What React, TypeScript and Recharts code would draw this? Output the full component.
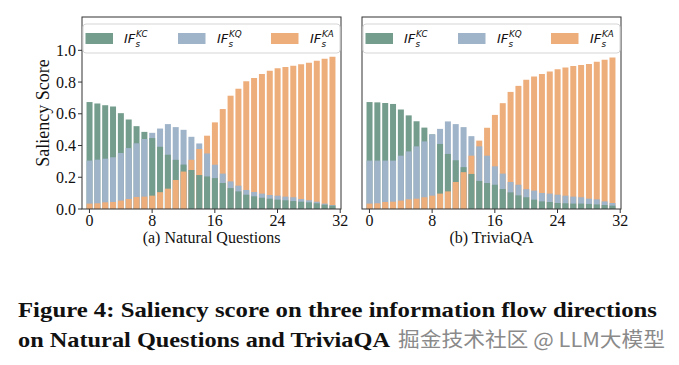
import React from 'react';
import { BarChart, Bar, XAxis, YAxis, Cell } from 'recharts';

const layers = [0, 1, 2, 3, 4, 5, 6, 7, 8, 9, 10, 11, 12, 13, 14, 15, 16, 17, 18, 19, 20, 21, 22, 23, 24, 25, 26, 27, 28, 29, 30, 31];
const seriesSup = ['KC', 'KQ', 'KA'];
const seriesColors = ['#759d8d', '#9fb3c9', '#eeae7c'];
const xTicks = [0, 8, 16, 24, 32];
const yTicks = [0, 0.2, 0.4, 0.6, 0.8, 1.0];
const panelTitles = ['(a) Natural Questions', '(b) TriviaQA'];

// Natural Questions
const nqKC = [0.674, 0.665, 0.654, 0.646, 0.604, 0.564, 0.522, 0.486, 0.447, 0.392, 0.342, 0.310, 0.280, 0.246, 0.214, 0.205, 0.195, 0.164, 0.132, 0.111, 0.090, 0.080, 0.071, 0.065, 0.059, 0.055, 0.050, 0.046, 0.042, 0.036, 0.027, 0.021];
const nqKQ = [0.305, 0.311, 0.317, 0.326, 0.353, 0.384, 0.414, 0.441, 0.480, 0.507, 0.535, 0.516, 0.499, 0.455, 0.413, 0.350, 0.279, 0.223, 0.174, 0.147, 0.120, 0.107, 0.097, 0.088, 0.084, 0.078, 0.074, 0.063, 0.055, 0.046, 0.034, 0.025];
const nqKA = [0.034, 0.036, 0.042, 0.044, 0.053, 0.063, 0.076, 0.078, 0.084, 0.106, 0.128, 0.183, 0.236, 0.310, 0.378, 0.462, 0.546, 0.630, 0.714, 0.758, 0.805, 0.826, 0.851, 0.872, 0.887, 0.895, 0.903, 0.912, 0.922, 0.935, 0.947, 0.960];

// TriviaQA
const tqKC = [0.674, 0.672, 0.668, 0.662, 0.627, 0.590, 0.553, 0.513, 0.470, 0.410, 0.347, 0.307, 0.264, 0.221, 0.177, 0.164, 0.153, 0.126, 0.105, 0.086, 0.074, 0.059, 0.048, 0.044, 0.038, 0.036, 0.034, 0.034, 0.032, 0.029, 0.025, 0.021];
const tqKQ = [0.305, 0.305, 0.305, 0.305, 0.336, 0.363, 0.395, 0.426, 0.470, 0.505, 0.552, 0.535, 0.516, 0.459, 0.395, 0.336, 0.269, 0.223, 0.170, 0.153, 0.125, 0.116, 0.101, 0.097, 0.090, 0.084, 0.078, 0.074, 0.065, 0.061, 0.048, 0.038];
const tqKA = [0.034, 0.036, 0.044, 0.046, 0.053, 0.061, 0.065, 0.074, 0.084, 0.097, 0.111, 0.170, 0.232, 0.336, 0.431, 0.512, 0.593, 0.667, 0.738, 0.776, 0.814, 0.835, 0.851, 0.867, 0.881, 0.891, 0.901, 0.908, 0.914, 0.928, 0.940, 0.955];

// build rows: tallest bar drawn first (behind), shortest in front
function buildRows(series: number[][]) {
  return layers.map((layer, i) => {
    const order = series
      .map((s, k) => ({ k, v: s[i] }))
      .sort((a, b) => b.v - a.v || a.k - b.k);
    return {
      layer,
      r0: order[0].v, r1: order[1].v, r2: order[2].v,
      k0: order[0].k, k1: order[1].k, k2: order[2].k,
    };
  });
}

const nqRows = buildRows([nqKC, nqKQ, nqKA]);
const tqRows = buildRows([tqKC, tqKQ, tqKA]);

const SERIF = '"Liberation Serif", "Times New Roman", serif';
const SANS = '"DejaVu Sans", sans-serif';

function Panel({ rows, left, showY }: { rows: any[]; left: number; showY: boolean }) {
  return (
    <div style={{ position: 'absolute', left, top: 0 }}>
      <BarChart
        width={360}
        height={250}
        data={rows}
        margin={{ top: 17, right: 19, bottom: 21, left: 42 }}
        barGap={-6}
        barCategoryGap={0}
      >
        <XAxis
          dataKey="layer"
          type="number"
          domain={[-0.95, 32.1]}
          ticks={xTicks}
          allowDataOverflow
          interval={0}
          height={20}
          axisLine={false}
          tickSize={4}
          tickLine={{ stroke: '#333' }}
          tick={{ fill: '#111', fontSize: 16, fontFamily: SERIF }}
        />
        <YAxis
          type="number"
          domain={[0, 1.21]}
          ticks={yTicks}
          allowDataOverflow
          width={40}
          axisLine={false}
          tickSize={showY ? 4 : 0}
          tickLine={showY ? { stroke: '#333' } : false}
          tick={showY ? { fill: '#111', fontSize: 16, fontFamily: SERIF } : false}
          tickFormatter={(v: number) => v.toFixed(1)}
        />
        {[0, 1, 2].map((r) => (
          <Bar key={r} dataKey={'r' + r} barSize={6} isAnimationActive={false}>
            {rows.map((row, i) => (
              <Cell key={i} fill={seriesColors[row['k' + r]]} />
            ))}
          </Bar>
        ))}
      </BarChart>
    </div>
  );
}

function LegendBox({ x0 }: { x0: number }) {
  const patchX = [3.5, 96, 189];
  const labelX = [42, 135, 228];
  return (
    <g>
      <rect x={x0 + 1} y={24} width={257} height={29} rx={3} fill="#fff" fillOpacity={0.85} stroke="#d5d5d5" strokeWidth={1} />
      {seriesSup.map((sup, k) => (
        <g key={k}>
          <rect x={x0 + patchX[k]} y={33} width={27.5} height={11} fill={seriesColors[k]} />
          <text x={x0 + labelX[k]} y={42.5} fontFamily={SANS} fontStyle="italic" fontSize={13} fill="#111">IF</text>
          <text x={x0 + labelX[k] + 12} y={37} fontFamily={SANS} fontStyle="italic" fontSize={8.8} fill="#111">{sup}</text>
          <text x={x0 + labelX[k] + 11.5} y={46.5} fontFamily={SANS} fontStyle="italic" fontSize={8.8} fill="#111">s</text>
        </g>
      ))}
    </g>
  );
}

export default function App() {
  return (
    <div style={{ position: 'absolute', left: 0, top: 0, width: 679, height: 365, background: '#fff', overflow: 'hidden' }}>
      <Panel rows={nqRows} left={0} showY={true} />
      <Panel rows={tqRows} left={280} showY={false} />
      <svg width={679} height={365} style={{ position: 'absolute', left: 0, top: 0, pointerEvents: 'none' }}>
        <rect x={82} y={17} width={259} height={192} fill="none" stroke="#333" strokeWidth={1} />
        <rect x={362} y={17} width={259} height={192} fill="none" stroke="#333" strokeWidth={1} />
        <LegendBox x0={82} />
        <LegendBox x0={362} />
        <text x={48.5} y={113} transform="rotate(-90 48.5 113)" textAnchor="middle" fontFamily={SERIF} fontSize={18} fill="#111">Saliency Score</text>
        <text x={211.5} y={243} textAnchor="middle" fontFamily={SERIF} fontSize={16} fill="#111">{panelTitles[0]}</text>
        <text x={491.5} y={243} textAnchor="middle" fontFamily={SERIF} fontSize={16} fill="#111">{panelTitles[1]}</text>
        <text x={18} y={317} fontFamily={SERIF} fontWeight="bold" fontSize={21} fill="#111" textLength={639} lengthAdjust="spacingAndGlyphs">Figure 4: Saliency score on three information flow directions</text>
        <text x={18} y={347} fontFamily={SERIF} fontWeight="bold" fontSize={21} fill="#111" textLength={372} lengthAdjust="spacingAndGlyphs">on Natural Questions and TriviaQA</text>
        <text x={398} y={347} fontFamily='"Noto Sans CJK SC", sans-serif' fontSize={20} fill="#8a8a8a" stroke="#ffffff" strokeWidth={1.5} paintOrder="stroke" textLength={267} lengthAdjust="spacingAndGlyphs">掘金技术社区 @ LLM大模型</text>
      </svg>
    </div>
  );
}
